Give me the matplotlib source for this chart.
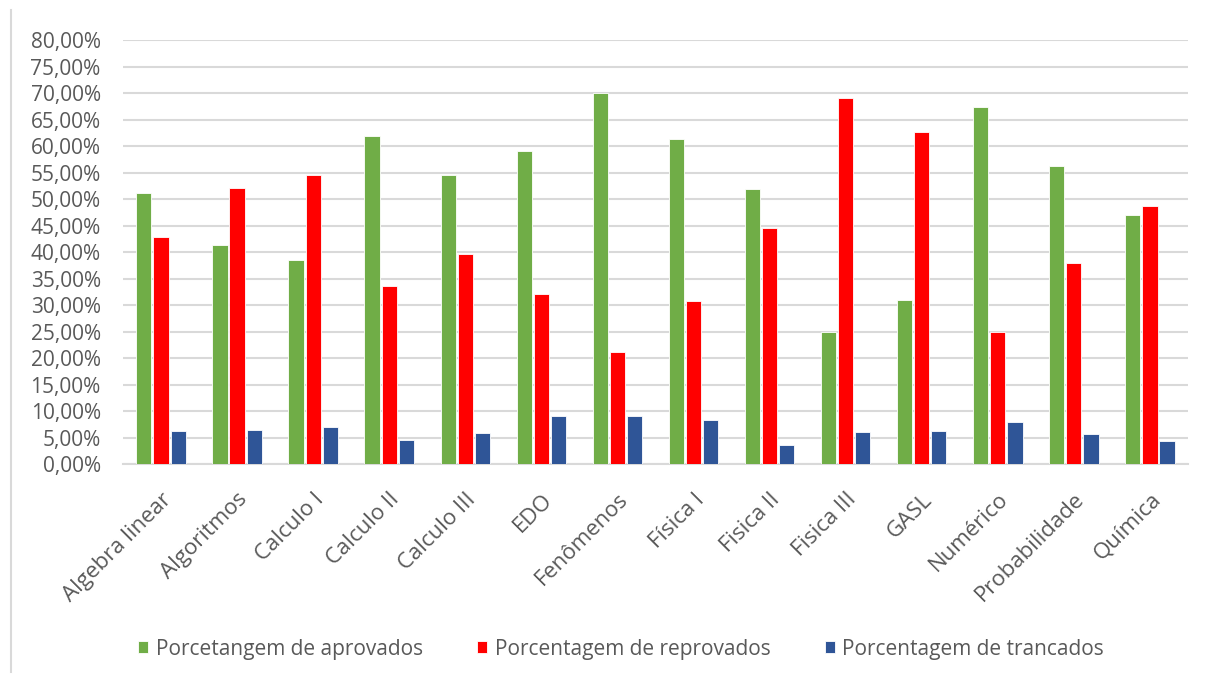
import matplotlib.pyplot as plt
import numpy as np
from matplotlib.lines import Line2D
from matplotlib.ticker import FuncFormatter, MultipleLocator

disciplinas = ["Algebra linear", "Algoritmos", "Calculo I", "Calculo II", "Calculo III",
               "EDO", "Fenômenos", "Física I", "Fisica II", "Fisica III", "GASL",
               "Numérico", "Probabilidade", "Química"]
aprovados = [51.1, 41.3, 38.5, 61.8, 54.5, 59.0, 70.0, 61.3, 51.9, 25.0, 31.0, 67.3, 56.2, 46.9]
reprovados = [42.8, 52.0, 54.5, 33.6, 39.6, 32.0, 21.1, 30.8, 44.5, 69.1, 62.7, 25.0, 38.0, 48.7]
trancados = [6.2, 6.4, 7.0, 4.6, 5.9, 9.0, 9.0, 8.3, 3.6, 6.1, 6.3, 8.0, 5.7, 4.4]

series = [
    ("Porcetangem de aprovados", aprovados, "#70ad47"),
    ("Porcentagem de reprovados", reprovados, "#ff0000"),
    ("Porcentagem de trancados", trancados, "#2f5597"),
]

plt.rcParams['font.family'] = ['Open Sans', 'DejaVu Sans']
txt = "#595959"

fig = plt.figure(figsize=(12.09, 6.82), dpi=100)
ax = fig.add_axes([0.1017, 0.3196, 0.8809, 0.6217])

x = np.arange(len(disciplinas))
w = 0.2
gap = 0.025
for i, (nome, vals, cor) in enumerate(series):
    ax.bar(x + (i - 1) * (w + gap), vals, width=w, color=cor, label=nome,
           edgecolor="white", linewidth=0.6, zorder=3)

ax.set_xlim(-0.5, len(disciplinas) - 0.5)
ax.set_ylim(0, 80)
ax.yaxis.set_major_locator(MultipleLocator(5))
ax.yaxis.set_major_formatter(FuncFormatter(lambda v, p: f"{v:.2f}%".replace(".", ",")))
ax.grid(axis="y", color="#d9d9d9", linewidth=1.5, zorder=0)
for s in ["top", "right", "left"]:
    ax.spines[s].set_visible(False)
ax.spines["bottom"].set_color("#d9d9d9")
ax.spines["bottom"].set_linewidth(1.5)
ax.tick_params(axis="both", length=0, colors=txt)
ax.tick_params(axis="y", pad=16, labelsize=15)
ax.set_xticks(x)
ax.set_xticklabels(disciplinas, rotation=45, ha="right", rotation_mode="anchor")
ax.tick_params(axis="x", pad=18, labelsize=16)

leg = fig.legend(loc="center", bbox_to_anchor=(0.5136, 0.048), ncol=3, frameon=False,
                 handlelength=0.5, handleheight=0.5, handletextpad=0.35, columnspacing=2.6,
                 prop={"size": 15})
for t in leg.get_texts():
    t.set_color(txt)

# borda esquerda do quadro
fig.add_artist(Line2D([11 / 1209, 11 / 1209], [1 - 10 / 682, 1 - 672 / 682],
                      transform=fig.transFigure, color="#d9d9d9", linewidth=1.5))

fig.savefig("out.png", dpi=100)
